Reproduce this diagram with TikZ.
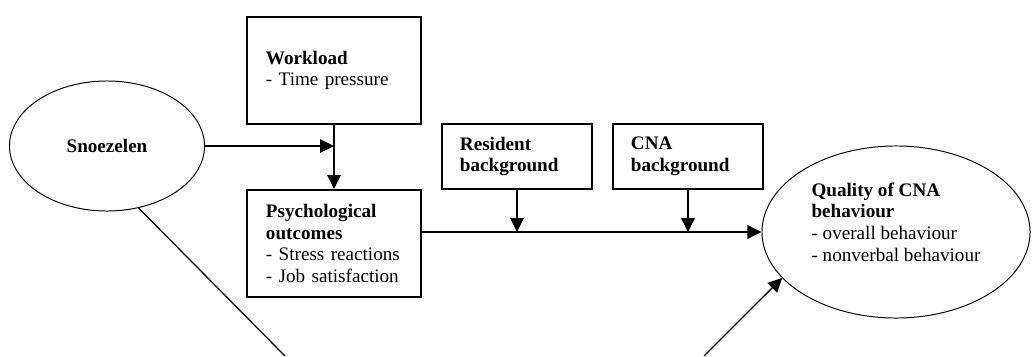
\documentclass[tikz,border=0pt]{standalone}
\usepackage{fontspec}
\setmainfont{Liberation Serif}
\usetikzlibrary{shapes.geometric,arrows.meta}
\begin{document}
\begin{tikzpicture}[x=0.025cm,y=-0.025cm,>={Triangle[length=3.5mm,width=3.4mm]},
  font=\fontsize{13.6}{15.4}\selectfont,
  box/.style={draw,line width=1.4pt,align=left,inner xsep=0.475cm,text width=3.4cm,minimum height=2.675cm},
  smallbox/.style={draw,line width=1.4pt,align=left,inner xsep=0.45cm,text width=2.85cm,minimum height=1.625cm},
  oval/.style={draw,ellipse,line width=0.7pt,align=left},
  link/.style={line width=0.9pt}]
\useasboundingbox (0,0) rectangle (1032,356);
\node[oval,minimum width=4.875cm,minimum height=3.25cm] (snoe) at (107,146) {\textbf{Snoezelen}};
\node[box] (work) at (334,70.5) {\textbf{Workload}\\- Time pressure};
\node[box] (psych) at (334,243.5) {\textbf{Psychological}\\\textbf{outcomes}\\- Stress reactions\\- Job satisfaction};
\node[smallbox] (res) at (517,156.5) {\textbf{Resident}\\\textbf{background}};
\node[smallbox] (cna) at (688,156.5) {\textbf{CNA}\\\textbf{background}};
\node[oval,minimum width=6.7cm,minimum height=4.3cm,text depth=0.5cm] (qual) at (896,232) {\textbf{Quality of CNA}\\\textbf{behaviour}\\- overall behaviour\\- nonverbal behaviour};
\coordinate (cutL) at (285,356);
\coordinate (cutR) at (704,356);
\draw[link,->] (work) -- (psych);
\draw[link,->] (snoe.east) -- (snoe.east -| work.south);
\draw[link,->] (qual.west -| psych.east) -- (qual.west);
\draw[link,->] (res) -- (res |- qual.west);
\draw[link,->] (cna) -- (cna |- qual.west);
\draw[link] (snoe.-63) -- (cutL);
\draw[link,->] (cutR) -- (qual.202);
\end{tikzpicture}
\end{document}
